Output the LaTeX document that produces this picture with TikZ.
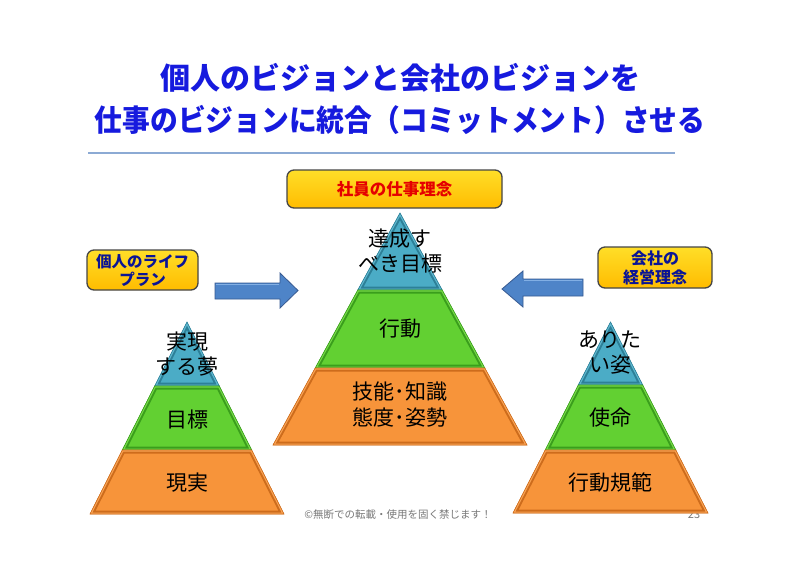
\documentclass[tikz,border=0pt]{standalone}
\usepackage{fontspec}
\setmainfont{Noto Sans CJK JP}
\usetikzlibrary{shadows}
\definecolor{titleblue}{RGB}{22,26,222}
\definecolor{rulec}{RGB}{140,170,212}
\definecolor{ylwtop}{RGB}{255,222,40}
\definecolor{ylwbot}{RGB}{255,188,0}
\definecolor{boxline}{RGB}{70,70,70}
\definecolor{navy}{RGB}{10,20,150}
\definecolor{bluem}{RGB}{75,172,198}
\definecolor{blued}{RGB}{45,128,152}
\definecolor{bluel}{RGB}{140,210,228}
\definecolor{greenm}{RGB}{98,208,50}
\definecolor{greend}{RGB}{58,158,28}
\definecolor{greenl}{RGB}{160,235,120}
\definecolor{orangem}{RGB}{247,148,58}
\definecolor{oranged}{RGB}{205,108,28}
\definecolor{orangel}{RGB}{252,196,140}
\definecolor{arrowm}{RGB}{78,132,200}
\definecolor{arrowl}{RGB}{130,175,228}
\definecolor{arrowd}{RGB}{55,90,145}
\definecolor{footg}{RGB}{120,120,120}
\tikzset{
  yellowbox/.style={draw=boxline, line width=1.3pt, rounded corners=7pt,
    top color=ylwtop, bottom color=ylwbot, align=center, inner sep=0pt,
    font=\bfseries\fontsize{15.5}{18}\selectfont, text=navy},
  pyrtext/.style={align=center, text=black, font=\fontsize{21}{25}\selectfont, inner sep=0pt},
  titletext/.style={font=\bfseries\fontsize{30}{34}\selectfont, inner sep=0pt, text=titleblue},
  blockarrow/.style={fill=arrowm, draw=arrowd, line width=0.8pt, line join=miter},
}
% layer: #1 main, #2 dark, #3 light, #4 path
\newcommand{\pyrlayer}[4]{%
  \begin{scope}
    \clip #4;
    \fill[#1] #4;
    \draw[#2, line width=7pt, line join=miter] #4;
    \draw[#1!70!#3, line width=3pt, line join=miter] #4;
  \end{scope}
  \draw[#2, line width=0.6pt, line join=miter] #4;
}
\begin{document}
\begin{tikzpicture}[x=1pt, y=-1pt]
\useasboundingbox (0,0) rectangle (800,566);
\fill[white] (0,0) rectangle (800,566);

% title
\node[titletext] (t1) at (400,78) {個人のビジョンと会社のビジョンを};
\node[titletext] (t2) at (400,120) {\scalebox{0.925}[1]{仕事のビジョンに統合（コミットメント）させる}};
\draw[rulec, line width=2pt] (88,153) -- (675,153);

% page number (behind pyramid)
\node[text=footg, font=\fontsize{11}{13}\selectfont] (pg) at (694,515) {23};
\node[text=footg, font=\fontsize{10.5}{12}\selectfont] (foot) at (398,515) {©無断での転載・使用を固く禁じます！};

% central pyramid
\pyrlayer{bluem}{blued}{bluel}{(400,213) -- (442.2,290) -- (357.8,290) -- cycle}
\pyrlayer{greenm}{greend}{greenl}{(357.8,290) -- (442.2,290) -- (484.8,368) -- (315.2,368) -- cycle}
\pyrlayer{orangem}{oranged}{orangel}{(315.2,368) -- (484.8,368) -- (527,445) -- (273,445) -- cycle}

% left pyramid
\pyrlayer{bluem}{blued}{bluel}{(187,322) -- (219.3,386) -- (154.7,386) -- cycle}
\pyrlayer{greenm}{greend}{greenl}{(154.7,386) -- (219.3,386) -- (251.7,450) -- (122.3,450) -- cycle}
\pyrlayer{orangem}{oranged}{orangel}{(122.3,450) -- (251.7,450) -- (284,514) -- (90,514) -- cycle}

% right pyramid
\pyrlayer{bluem}{blued}{bluel}{(610.5,322) -- (642.7,385) -- (578.3,385) -- cycle}
\pyrlayer{greenm}{greend}{greenl}{(578.3,385) -- (642.7,385) -- (675.8,450) -- (545.2,450) -- cycle}
\pyrlayer{orangem}{oranged}{orangel}{(545.2,450) -- (675.8,450) -- (708,513) -- (513,513) -- cycle}

% pyramid texts
\node[pyrtext] (c1) at (400,251) {達成す\\べき目標};
\node[pyrtext] (c2) at (400,329) {行動};
\node[pyrtext, font=\fontsize{21}{26}\selectfont] (c3) at (400,405) {技能･知識\\態度･姿勢};
\node[pyrtext] (l1) at (187,354) {実現\\する夢};
\node[pyrtext] (l2) at (187,420) {目標};
\node[pyrtext] (l3) at (187,483) {現実};
\node[pyrtext] (r1) at (610,352) {ありた\\い姿};
\node[pyrtext] (r2) at (610,418) {使命};
\node[pyrtext] (r3) at (610,483) {行動規範};

% boxes
\node[yellowbox, minimum width=215pt, minimum height=38pt, text=red!90!black,
      font=\bfseries\fontsize{16.5}{18}\selectfont] (top) at (394.5,189) {社員の仕事理念};
\node[yellowbox, minimum width=111pt, minimum height=40pt] (lbox) at (142.5,270) {個人のライフ\\プラン};
\node[yellowbox, minimum width=114pt, minimum height=41pt,
      font=\bfseries\fontsize{16}{19}\selectfont] (rbox) at (655,267.5) {会社の\\経営理念};

% block arrows
\draw[blockarrow] (215,283) -- (280,283) -- (280,273) -- (298,290.5) -- (280,308) -- (280,299) -- (215,299) -- cycle;
\draw[arrowl, line width=1.5pt] (216,284.5) -- (279,284.5);
\draw[blockarrow] (583,279) -- (523,279) -- (523,271) -- (502,289) -- (523,307) -- (523,296) -- (583,296) -- cycle;
\draw[arrowl, line width=1.5pt] (582,280.5) -- (524,280.5);
\end{tikzpicture}
\end{document}
